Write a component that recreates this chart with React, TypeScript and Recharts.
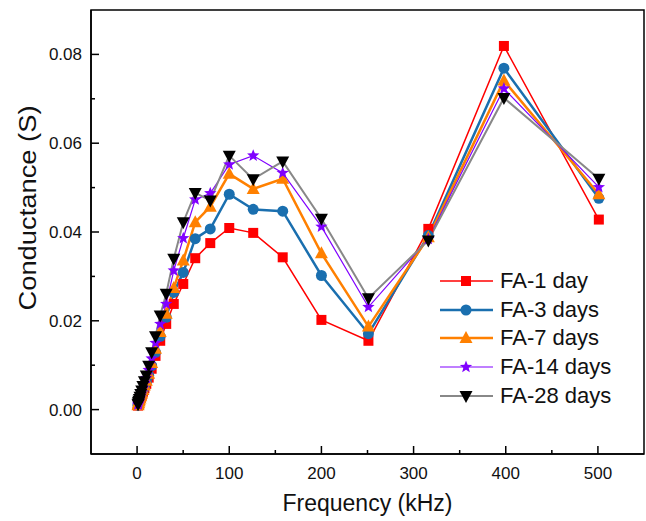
import React from "react";
import { LineChart, Line, XAxis, YAxis, ReferenceArea } from "recharts";

const FREQ = [1, 1.26, 1.58, 2, 2.51, 3.16, 3.98, 5.01, 6.31, 7.94, 10, 12.6, 15.8, 20, 25.1, 31.6, 39.8, 50.1, 63.1, 79.4, 100, 126, 158, 200, 251, 316, 398, 501];

const FA_1 = [0.0009, 0.0011, 0.0013, 0.0016, 0.0019, 0.0023, 0.0027, 0.0033, 0.004, 0.0048, 0.0058, 0.0072, 0.0092, 0.0121, 0.0155, 0.0193, 0.0238, 0.0283, 0.0341, 0.0375, 0.0409, 0.0398, 0.0343, 0.0202, 0.0155, 0.0407, 0.0819, 0.0428];
const FA_3 = [0.001, 0.0012, 0.0014, 0.0017, 0.002, 0.0024, 0.0029, 0.0035, 0.0042, 0.0051, 0.0062, 0.0077, 0.0099, 0.0129, 0.0165, 0.0208, 0.0264, 0.0309, 0.0385, 0.0407, 0.0485, 0.0451, 0.0447, 0.0302, 0.0171, 0.0392, 0.0769, 0.0476];
const FA_7 = [0.001, 0.0012, 0.0015, 0.0018, 0.0021, 0.0025, 0.003, 0.0036, 0.0044, 0.0054, 0.0065, 0.0081, 0.0105, 0.0137, 0.0175, 0.0216, 0.0274, 0.0336, 0.0422, 0.0457, 0.0531, 0.0497, 0.052, 0.0352, 0.0187, 0.0388, 0.0741, 0.0485];
const FA_14 = [0.0011, 0.0013, 0.0016, 0.0019, 0.0022, 0.0027, 0.0032, 0.0039, 0.0048, 0.0059, 0.0071, 0.0089, 0.0115, 0.015, 0.0193, 0.0238, 0.0313, 0.0386, 0.0473, 0.0487, 0.0552, 0.0572, 0.0533, 0.0412, 0.0231, 0.0384, 0.0723, 0.0501];
const FA_28 = [0.0012, 0.0014, 0.0017, 0.002, 0.0024, 0.0029, 0.0035, 0.0043, 0.0053, 0.0064, 0.0077, 0.0099, 0.0129, 0.0165, 0.0212, 0.0261, 0.034, 0.0422, 0.0488, 0.0471, 0.0572, 0.0519, 0.0559, 0.043, 0.0251, 0.0381, 0.0702, 0.052];

const X_MAJOR = [0, 100, 200, 300, 400, 500];
const X_MINOR = [50, 150, 250, 350, 450];
const Y_MAJOR = [0, 0.02, 0.04, 0.06, 0.08];
const Y_MINOR = [0.01, 0.03, 0.05, 0.07];

const FONT = "'Liberation Sans', Arial, sans-serif";

const SERIES = [
  { key: "d1", name: "FA-1 day", values: FA_1, line: "#ff0000", fill: "#ff0000", width: 1.5, shape: "square" },
  { key: "d3", name: "FA-3 days", values: FA_3, line: "#1a6faf", fill: "#1a6faf", width: 2.5, shape: "circle" },
  { key: "d7", name: "FA-7 days", values: FA_7, line: "#ff8000", fill: "#ff8000", width: 2.5, shape: "up" },
  { key: "d14", name: "FA-14 days", values: FA_14, line: "#8000ff", fill: "#8000ff", width: 1.2, shape: "star" },
  { key: "d28", name: "FA-28 days", values: FA_28, line: "#888888", fill: "#000000", width: 2, shape: "down" },
];

const data = FREQ.map((f, i) => {
  const row: Record<string, number> = { f };
  SERIES.forEach((s) => (row[s.key] = s.values[i]));
  return row;
});

function Marker({ shape, cx, cy, fill }: { shape: string; cx: number; cy: number; fill: string }) {
  if (cx == null || cy == null) return null;
  if (shape === "square") return <rect x={cx - 5} y={cy - 5} width={10} height={10} fill={fill} />;
  if (shape === "circle") return <circle cx={cx} cy={cy} r={5.5} fill={fill} />;
  if (shape === "up")
    return <polygon points={`${cx},${cy - 7} ${cx - 6.5},${cy + 5} ${cx + 6.5},${cy + 5}`} fill={fill} />;
  if (shape === "down")
    return <polygon points={`${cx - 6.5},${cy - 5} ${cx + 6.5},${cy - 5} ${cx},${cy + 7}`} fill={fill} />;
  // star
  const pts: string[] = [];
  for (let k = 0; k < 10; k++) {
    const r = k % 2 === 0 ? 6.5 : 2.8;
    const a = -Math.PI / 2 + (k * Math.PI) / 5;
    pts.push(`${cx + r * Math.cos(a)},${cy + r * Math.sin(a)}`);
  }
  return <polygon points={pts.join(" ")} fill={fill} />;
}

const XTick = (props: any) => {
  const { x, y, payload } = props;
  const major = payload.value % 100 === 0;
  return (
    <g>
      <line x1={x} x2={x} y1={y} y2={y - (major ? 8 : 4)} stroke="#000" strokeWidth={1.5} />
      {major && (
        <text x={x} y={y + 25} textAnchor="middle" fontSize={17} fontFamily={FONT} fill="#111">
          {payload.value}
        </text>
      )}
    </g>
  );
};

const YTick = (props: any) => {
  const { x, y, payload } = props;
  const major = Math.round(payload.value * 1000) % 20 === 0;
  return (
    <g>
      <line x1={x} x2={x + (major ? 8 : 4)} y1={y} y2={y} stroke="#000" strokeWidth={1.5} />
      {major && (
        <text x={x - 9} y={y + 6} textAnchor="end" fontSize={17} fontFamily={FONT} fill="#111">
          {payload.value.toFixed(2)}
        </text>
      )}
    </g>
  );
};

export default function App() {
  return (
    <div style={{ position: "absolute", left: 0, top: 0, width: 646, height: 521, background: "#fff" }}>
      <LineChart width={646} height={521} data={data} margin={{ top: 10, right: 2, bottom: 0, left: 0 }}>
        <XAxis
          dataKey="f"
          type="number"
          domain={[-50, 550]}
          ticks={[...X_MAJOR, ...X_MINOR].sort((a, b) => a - b)}
          allowDataOverflow
          height={67}
          tickSize={0}
          tickMargin={0}
          tickLine={false}
          axisLine={{ stroke: "#000", strokeWidth: 1.5 }}
          tick={XTick}
          label={{
            content: ({ viewBox }: any) => (
              <text x={viewBox.x + viewBox.width / 2} y={viewBox.y + 57} textAnchor="middle" fontSize={23} fontFamily={FONT} fill="#111">
                Frequency (kHz)
              </text>
            ),
          }}
        />
        <YAxis
          type="number"
          domain={[-0.01, 0.09]}
          ticks={[...Y_MAJOR, ...Y_MINOR].sort((a, b) => a - b)}
          allowDataOverflow
          width={91}
          tickSize={0}
          tickMargin={0}
          tickLine={false}
          axisLine={{ stroke: "#000", strokeWidth: 1.5 }}
          tick={YTick}
          label={{
            content: ({ viewBox }: any) => {
              const cx = 28;
              const cy = viewBox.y + viewBox.height / 2 - 24;
              return (
                <text x={cx} y={cy} transform={`rotate(-90 ${cx} ${cy})`} textAnchor="middle" dominantBaseline="central" fontSize={23} fontFamily={FONT} fill="#111" textLength={205} lengthAdjust="spacingAndGlyphs">
                  Conductance (S)
                </text>
              );
            },
          }}
        />
        <ReferenceArea x1={-50} x2={550} y1={-0.01} y2={0.09} fill="none" stroke="#000" strokeWidth={1.5} ifOverflow="visible" />
        {SERIES.map((s) => (
          <Line
            key={s.key}
            dataKey={s.key}
            name={s.name}
            stroke={s.line}
            strokeWidth={s.width}
            isAnimationActive={false}
            dot={(p: any) => <Marker key={`${s.key}-${p.index}`} shape={s.shape} cx={p.cx} cy={p.cy} fill={s.fill} />}
            activeDot={false}
          />
        ))}
      </LineChart>
      <div style={{ position: "absolute", left: 438, top: 267, fontFamily: FONT, fontSize: 22, color: "#111" }}>
        {SERIES.map((s) => (
          <div key={s.key} style={{ display: "flex", alignItems: "center", height: 28.6 }}>
            <svg width={58} height={20} style={{ marginRight: 4 }}>
              <line x1={2} x2={55} y1={10} y2={10} stroke={s.line} strokeWidth={s.width} />
              <Marker shape={s.shape} cx={28} cy={10} fill={s.fill} />
            </svg>
            <span>{s.name}</span>
          </div>
        ))}
      </div>
    </div>
  );
}
